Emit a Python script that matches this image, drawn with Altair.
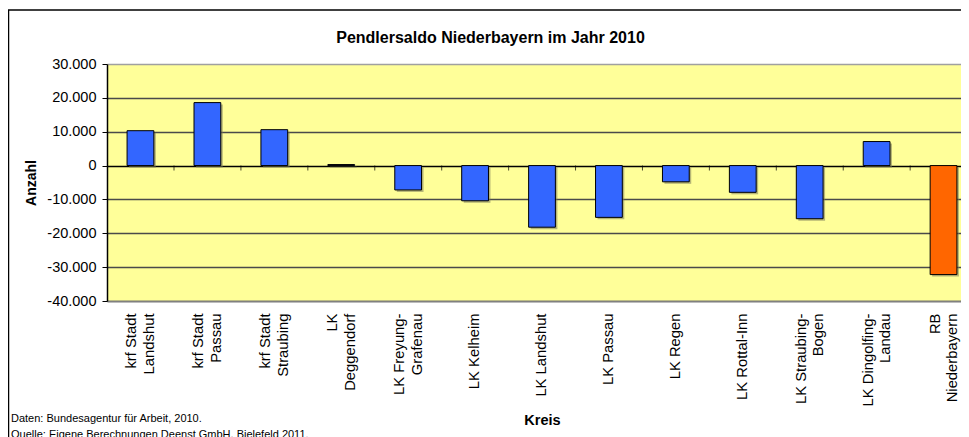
import altair as alt
import pandas as pd

NB = "\u00a0"

# Categories (two label lines each; short lines padded so they sit centred)
line1 = ["krf Stadt" + NB, "krf Stadt", "krf Stadt" + NB, "LK" + NB * 7, "LK Freyung-",
         "LK Kelheim", "LK Landshut", "LK Passau", "LK Regen", "LK Rottal-Inn",
         "LK Straubing-", "LK Dingolfing-", "RB" + NB * 7]
line2 = ["Landshut", "Passau" + NB, "Straubing", "Deggendorf", "Grafenau" + NB * 2,
         "", "", "", "", "",
         "Bogen" + NB * 6, "Landau" + NB * 5, "Niederbayern"]
values = [10300, 18600, 10600, 300, -7200, -10400, -18200, -15300, -4800, -7900,
          -15700, 7100, -32200]
colors = ["#3366FF"] * 12 + ["#FF6600"]

title_text = "Pendlersaldo Niederbayern im Jahr 2010"
y_title = "Anzahl"
x_title = "Kreis"
footnotes = ["Daten: Bundesagentur für Arbeit, 2010.",
             "Quelle: Eigene Berechnungen Deenst GmbH, Bielefeld 2011."]
y_ticks = [-40000, -30000, -20000, -10000, 0, 10000, 20000, 30000]

kreis = [a if b == "" else a + "\n" + b for a, b in zip(line1, line2)]
df = pd.DataFrame({"kreis": kreis, "wert": values, "farbe": colors})

FONT = "Liberation Sans, Arial, sans-serif"

xscale = alt.Scale(domain=kreis, range=[0, 870], paddingInner=0.6, paddingOuter=0.3)
yscale = alt.Scale(domain=[-40000, 30000], nice=False)

label_offset = {
    "condition": {"test": "indexof(datum.value, '\\n') >= 0", "value": -8},
    "value": 0,
}

xaxis = alt.Axis(
    title=x_title, titleFont=FONT, titleFontSize=14.5, titleFontWeight="bold",
    titleColor="black", titleY=119, titleBaseline="middle",
    labelExpr="split(datum.label, '\\n')", labelAngle=270, labelAlign="right",
    labelBaseline="middle", labelFont=FONT, labelFontSize=14.8, labelColor="black",
    labelLineHeight=17.5, labelPadding=12, labelOverlap=False, labelLimit=0,
    labelOffset=label_offset,
    ticks=False, domainColor="#808080", domainWidth=1.5, grid=False,
)

grid_color = {
    "condition": [
        {"test": "datum.value === 0", "value": "black"},
        {"test": "datum.value === 30000", "value": "#a0a0a0"},
    ],
    "value": "#4a4a4a",
}

yaxis = alt.Axis(
    title=y_title, titleFont=FONT, titleFontSize=14, titleFontWeight="bold",
    titleColor="black", titleAngle=270, titleX=-76, titleBaseline="middle",
    titleAlign="center",
    values=y_ticks, labelOverlap=False,
    labelExpr="(datum.value < 0 ? '-' : '') + replace(format(abs(datum.value), ',d'), ',', '.')",
    labelFont=FONT, labelFontSize=14.5, labelColor="black", labelPadding=6,
    tickSize=5, tickColor="black", domainColor="black", domainWidth=1.5,
    grid=True, gridColor=grid_color, gridWidth=1.4,
)

# soft drop shadow behind bars
shadow = alt.Chart(df).mark_bar(
    color="#7a7a5a", opacity=0.55, xOffset=2, yOffset=2, clip=True
).encode(
    x=alt.X("kreis:N", sort=kreis, scale=xscale, axis=xaxis),
    y=alt.Y("wert:Q", scale=yscale, axis=yaxis),
)

bars = alt.Chart(df).mark_bar(stroke="black", strokeWidth=1, clip=True).encode(
    x=alt.X("kreis:N", sort=kreis, scale=xscale, axis=xaxis),
    y=alt.Y("wert:Q", scale=yscale, axis=yaxis),
    color=alt.Color("farbe:N", scale=None),
)

# small category separator ticks hanging below the zero line
ticks = alt.Chart(df).transform_calculate(null0="0").mark_tick(
    orient="vertical", size=5, thickness=1, color="black", yOffset=2.5,
    xOffset=-20, clip=True
).encode(
    x=alt.X("kreis:N", sort=kreis, scale=xscale, axis=xaxis, bandPosition=0),
    y=alt.Y("null0:Q", scale=yscale, axis=yaxis),
)

title_mark = alt.Chart(pd.DataFrame({"t": [title_text]})).mark_text(
    align="center", baseline="alphabetic", font=FONT, fontSize=16, fontWeight="bold",
    color="black"
).encode(text="t:N", x=alt.value(383.5), y=alt.value(-21))

foot1 = alt.Chart(pd.DataFrame({"t": [footnotes[0]]})).mark_text(
    align="left", baseline="middle", font=FONT, fontSize=11, color="black"
).encode(text="t:N", x=alt.value(-96), y=alt.value(355))
foot2 = alt.Chart(pd.DataFrame({"t": [footnotes[1]]})).mark_text(
    align="left", baseline="middle", font=FONT, fontSize=11, color="black"
).encode(text="t:N", x=alt.value(-96), y=alt.value(371))

frame_top = alt.Chart(pd.DataFrame({"t": [0]})).mark_rule(color="black", strokeWidth=1.5).encode(
    x=alt.value(-99), x2=alt.value(854), y=alt.value(-54)
)
frame_left = alt.Chart(pd.DataFrame({"t": [0]})).mark_rule(color="black", strokeWidth=1.5).encode(
    x=alt.value(-98.5), y=alt.value(-54), y2=alt.value(400)
)

chart = alt.layer(shadow, bars, ticks, title_mark, foot1, foot2, frame_top, frame_left).properties(
    width=854,
    height=237,
    background="white",
    padding={"left": 99, "top": 56, "right": 0, "bottom": 136},
    autosize=alt.AutoSizeParams(type="none"),
).configure_view(
    fill="#FFFF99", stroke=None
)

chart.save("out.html", embed_options={"renderer": "svg", "actions": False})
